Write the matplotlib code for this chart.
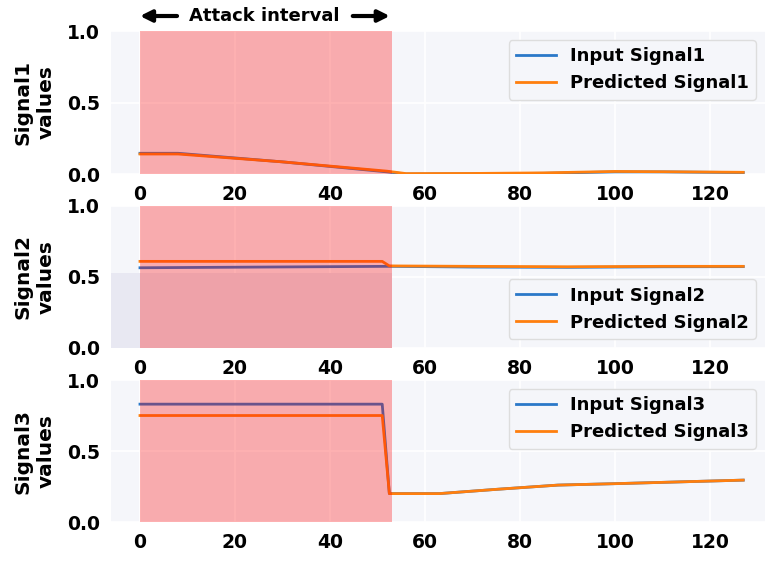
import matplotlib
matplotlib.use("Agg")
import matplotlib.pyplot as plt
from matplotlib.patches import Rectangle

# values (vertices of each polyline)
x_in1 = [0, 8, 30, 52, 56, 70, 85, 100, 110, 127]
input1 = [0.145, 0.145, 0.085, 0.015, 0.0, 0.002, 0.005, 0.015, 0.015, 0.01]
x_pr1 = [0, 8, 30, 52, 56, 70, 85, 100, 110, 127]
pred1 = [0.14, 0.14, 0.085, 0.02, 0.003, 0.004, 0.008, 0.018, 0.016, 0.012]

x_in2 = [0, 52, 53, 70, 90, 110, 127]
input2 = [0.565, 0.575, 0.575, 0.57, 0.568, 0.572, 0.573]
x_pr2 = [0, 51, 52.5, 70, 90, 110, 127]
pred2 = [0.61, 0.61, 0.578, 0.575, 0.572, 0.575, 0.575]

x_in3 = [0, 51, 52.5, 63, 75, 88, 100, 127]
input3 = [0.83, 0.83, 0.20, 0.20, 0.23, 0.26, 0.27, 0.295]
x_pr3 = [0, 51, 52.5, 63, 75, 88, 100, 127]
pred3 = [0.75, 0.75, 0.20, 0.20, 0.23, 0.26, 0.27, 0.295]

attack = (0, 53)
xticks = [0, 20, 40, 60, 80, 100, 120]
yticks = [0.0, 0.5, 1.0]

series = [
    ("Signal1", x_in1, input1, x_pr1, pred1, "upper right"),
    ("Signal2", x_in2, input2, x_pr2, pred2, "lower right"),
    ("Signal3", x_in3, input3, x_pr3, pred3, "upper right"),
]

BG = "#f5f6fa"
fig = plt.figure(figsize=(7.65, 5.61), dpi=100)
boxes = [(0.1451, 0.6898, 0.855, 0.2549),
         (0.1451, 0.3797, 0.855, 0.2531),
         (0.1451, 0.0695, 0.855, 0.2531)]

axes = []
for box, (name, xi, yi, xp, yp, loc) in zip(boxes, series):
    ax = fig.add_axes(box)
    ax.set_facecolor(BG)
    for s in ax.spines.values():
        s.set_visible(False)
    ax.grid(True, color="white", linewidth=1.2)
    ax.set_axisbelow(True)

    ax.plot(xi, yi, color="#2a78c8", lw=2, label="Input " + name, zorder=2)
    ax.plot(xp, yp, color="#ff7f0e", lw=2, label="Predicted " + name, zorder=2)
    ax.axvspan(attack[0], attack[1], color="red", alpha=0.3, lw=0, zorder=3)

    ax.set_xlim(-6.1, 131.6)
    ax.set_ylim(0, 1)
    ax.set_xticks(xticks)
    ax.set_yticks(yticks)
    ax.tick_params(length=0, pad=8, labelsize=13.5)
    for lab in ax.get_xticklabels() + ax.get_yticklabels():
        lab.set_fontweight("bold")
    ax.set_ylabel(name + "\nvalues", fontsize=14.5, fontweight="bold",
                  linespacing=1.3, labelpad=8)

    leg = ax.legend(loc=loc, prop={"weight": "bold", "size": 13},
                    frameon=True, facecolor=BG, edgecolor="#dddddd",
                    framealpha=1, handlelength=2.2, borderaxespad=0.5)
    leg.set_zorder(5)
    axes.append(ax)

# odd grey block in the middle panel
axes[1].add_patch(Rectangle((-6.1, 0), 59.1, 0.53, facecolor="#e8e8f2",
                            edgecolor="none", zorder=0.8))

# "Attack interval" header with arrows
ax = axes[0]
tr = ax.get_xaxis_transform()
ax.text(26.2, 1.105, "Attack interval", transform=tr,
        ha="center", va="center", fontsize=13, fontweight="bold", clip_on=False)
for tail, head in [(7.8, 0), (44.8, 52.6)]:
    ax.annotate("", xy=(head, 1.105), xytext=(tail, 1.105),
                xycoords=tr, textcoords=tr,
                arrowprops=dict(arrowstyle="-|>", lw=3, color="black",
                                mutation_scale=17, shrinkA=0, shrinkB=0))

fig.savefig("out.png", dpi=100)
